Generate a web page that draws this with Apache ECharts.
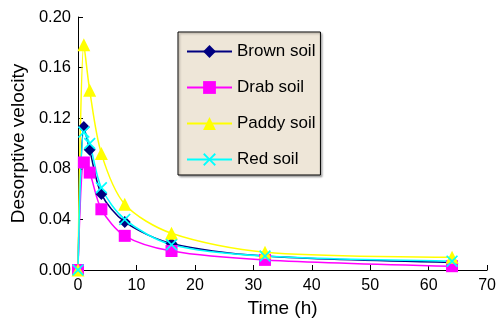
<!DOCTYPE html>
<html>
<head>
<meta charset="utf-8">
<script src="https://cdn.jsdelivr.net/npm/echarts@6/dist/echarts.min.js"></script>
<style>
  html, body { margin: 0; padding: 0; background: #fff; }
  #main { width: 499px; height: 326px; }
</style>
</head>
<body>
<div id="main"></div>
<script>
// sampling times (h)
var times = [0, 1, 2, 4, 8, 16, 32, 64];
// desorptive velocity per soil
var brownSoil = [0, 0.113, 0.095, 0.060, 0.038, 0.021, 0.011, 0.006];
var drabSoil = [0, 0.085, 0.077, 0.048, 0.027, 0.015, 0.008, 0.003];
var paddySoil = [0, 0.178, 0.142, 0.092, 0.052, 0.029, 0.014, 0.010];
var redSoil = [0, 0.109, 0.100, 0.065, 0.040, 0.020, 0.011, 0.007];

var xTicks = [0, 10, 20, 30, 40, 50, 60, 70];
var yTicks = [0, 0.04, 0.08, 0.12, 0.16, 0.20];

var crossPath = 'path://M0,1L1,0L5,4L9,0L10,1L6,5L10,9L9,10L5,6L1,10L0,9L4,5Z';

function pairs(vals) {
  return times.map(function (t, i) { return [t, vals[i]]; });
}

function makeSeries(name, vals, color, symbol, size) {
  return {
    name: name,
    type: 'line',
    data: pairs(vals),
    smooth: 0.3,
    symbol: symbol,
    symbolSize: size,
    lineStyle: { color: color, width: 1.5 },
    itemStyle: { color: color },
    emphasis: { disabled: true }
  };
}

var chart = echarts.init(document.getElementById('main'));
var font = 'Liberation Sans';

chart.setOption({
  animation: false,
  textStyle: { fontFamily: font },
  grid: { left: 78, right: 11, top: 17, bottom: 56 },
  legend: {
    orient: 'vertical',
    left: 178,
    top: 32,
    padding: [11, 5, 7, 8],
    itemWidth: 45,
    itemHeight: 16,
    itemGap: 19,
    backgroundColor: '#EEE6D8',
    borderColor: '#000',
    borderWidth: 1,
    shadowColor: 'rgba(0,0,0,0.3)',
    shadowBlur: 2,
    shadowOffsetX: 1.5,
    shadowOffsetY: 1.5,
    textStyle: { fontFamily: font, fontSize: 17, color: '#000' },
    data: ['Brown soil', 'Drab soil', 'Paddy soil', 'Red soil']
  },
  xAxis: {
    type: 'value',
    min: xTicks[0],
    max: xTicks[xTicks.length - 1],
    interval: 10,
    name: 'Time (h)',
    nameLocation: 'middle',
    nameGap: 28,
    nameTextStyle: { fontFamily: font, fontSize: 19, color: '#000' },
    axisLine: { lineStyle: { color: '#000', width: 1 } },
    axisTick: { inside: true, length: 5, lineStyle: { color: '#000' } },
    axisLabel: { fontFamily: font, fontSize: 16, color: '#000', margin: 8 },
    splitLine: { show: false }
  },
  yAxis: {
    type: 'value',
    min: yTicks[0],
    max: yTicks[yTicks.length - 1],
    interval: 0.04,
    name: 'Desorptive velocity',
    nameLocation: 'middle',
    nameGap: 50,
    nameTextStyle: { fontFamily: font, fontSize: 19, color: '#000' },
    axisLine: { show: true, lineStyle: { color: '#000', width: 1 } },
    axisTick: { show: true, inside: true, length: 5, lineStyle: { color: '#000' } },
    axisLabel: {
      fontFamily: font, fontSize: 16.5, color: '#000', margin: 7,
      formatter: function (v) { return v.toFixed(2); }
    },
    splitLine: { show: false }
  },
  series: [
    makeSeries('Brown soil', brownSoil, '#000080', 'diamond', 12),
    makeSeries('Drab soil', drabSoil, '#FF00FF', 'rect', 12),
    makeSeries('Paddy soil', paddySoil, '#FFFF00', 'triangle', 13),
    makeSeries('Red soil', redSoil, '#00FFFF', crossPath, 12)
  ]
});
</script>
</body>
</html>
